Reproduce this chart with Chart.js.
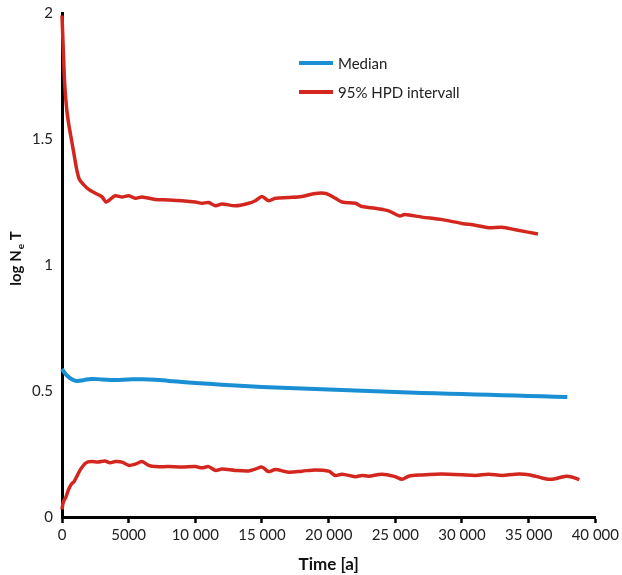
<!DOCTYPE html>
<html>
<head>
<meta charset="utf-8">
<script src="https://cdn.jsdelivr.net/npm/chart.js@4"></script>
<style>
  html, body { margin: 0; padding: 0; background: #fff; }
  #wrap { position: relative; width: 622px; height: 575px; }
</style>
</head>
<body>
<div id="wrap"><canvas id="neChart" width="622" height="575"></canvas></div>
<script>
const seriesNames = ["Median", "95% HPD intervall"];

const medianTime = [0, 300, 700, 1100, 1600, 2200, 3000, 4000, 5000, 6000, 7000, 8000, 9000, 10000,
  12000, 14000, 16000, 18000, 20000, 22000, 24000, 26000, 28000, 30000, 32000, 34000, 36000, 37900];
const medianValue = [0.588, 0.565, 0.548, 0.540, 0.543, 0.548, 0.546, 0.544, 0.546, 0.547, 0.545, 0.540, 0.536, 0.532,
  0.525, 0.519, 0.514, 0.510, 0.506, 0.502, 0.498, 0.494, 0.491, 0.488, 0.485, 0.482, 0.479, 0.476];

const upperTime = [0, 100, 200, 350, 500, 700, 900, 1100, 1300, 1600, 2000, 2500, 3000, 3300, 3600, 4000, 4500,
  5000, 5500, 6000, 7000, 8000, 9000, 10000, 10500, 11000, 11500, 12000, 13000, 14000, 14500, 15000, 15500,
  16000, 17000, 18000, 19000, 19800, 20500, 21000, 22000, 22500, 23500, 24500, 25300, 25700, 27000, 28500,
  30000, 31000, 32000, 33000, 34000, 35700];
const upperValue = [1.99, 1.85, 1.72, 1.62, 1.56, 1.50, 1.44, 1.38, 1.34, 1.32, 1.30, 1.285, 1.27, 1.25, 1.26, 1.275, 1.27,
  1.275, 1.265, 1.27, 1.26, 1.258, 1.255, 1.25, 1.245, 1.248, 1.235, 1.242, 1.235, 1.245, 1.255, 1.272, 1.255,
  1.265, 1.268, 1.272, 1.284, 1.284, 1.265, 1.25, 1.245, 1.232, 1.225, 1.215, 1.195, 1.2, 1.19, 1.18,
  1.165, 1.158, 1.148, 1.15, 1.14, 1.123];

const lowerTime = [0, 100, 300, 500, 700, 900, 1100, 1400, 1800, 2200, 2700, 3200, 3600, 4000, 4500, 5000, 5500,
  6000, 6500, 7000, 8000, 9000, 10000, 10500, 11000, 11500, 12000, 13000, 14000, 14500, 15000, 15500, 16000,
  17000, 18000, 19000, 20000, 20500, 21000, 22000, 22500, 23000, 24000, 25000, 25500, 26000, 27000, 28000,
  29000, 30000, 31000, 32000, 33000, 34000, 35000, 36000, 36500, 37000, 37800, 38300, 38800];
const lowerValue = [0.03, 0.06, 0.08, 0.11, 0.13, 0.14, 0.16, 0.19, 0.215, 0.22, 0.218, 0.222, 0.215, 0.22, 0.218, 0.205, 0.21,
  0.22, 0.205, 0.2, 0.2, 0.198, 0.2, 0.195, 0.2, 0.185, 0.19, 0.185, 0.183, 0.19, 0.198, 0.18, 0.188,
  0.178, 0.182, 0.187, 0.182, 0.165, 0.17, 0.16, 0.165, 0.162, 0.17, 0.16, 0.15, 0.162, 0.167, 0.17,
  0.17, 0.168, 0.165, 0.17, 0.165, 0.17, 0.168, 0.155, 0.15, 0.152, 0.162, 0.158, 0.148];

const xTickLabels = ["0", "5000", "10 000", "15 000", "20 000", "25 000", "30 000", "35 000", "40 000"];
const yTickLabels = ["0", "0.5", "1", "1.5", "2"];

const blue = "#1b8fd3";
const red = "#d3261f";
const fontFamily = "Lato, 'Open Sans', sans-serif";

function toPoints(xs, ys) {
  return xs.map((x, i) => ({ x: x, y: ys[i] }));
}

// legend inside the plot, plus the y title with a subscript
const extras = {
  id: "extras",
  afterDraw(chart) {
    const ctx = chart.ctx;
    const area = chart.chartArea;
    ctx.save();
    const items = [[seriesNames[0], blue], [seriesNames[1], red]];
    items.forEach(([label, color], i) => {
      const y = area.top + 50 + i * 29;
      const x = area.left + 237;
      ctx.strokeStyle = color;
      ctx.lineWidth = 4;
      ctx.beginPath();
      ctx.moveTo(x, y);
      ctx.lineTo(x + 34, y);
      ctx.stroke();
      ctx.fillStyle = "#222";
      ctx.font = "15px " + fontFamily;
      ctx.textBaseline = "middle";
      ctx.fillText(label, x + 39, y + 1);
    });

    ctx.translate(16, (area.top + area.bottom) / 2 - 6);
    ctx.rotate(-Math.PI / 2);
    ctx.fillStyle = "#111";
    ctx.textBaseline = "middle";
    ctx.font = "bold 15px " + fontFamily;
    const parts = ["log N", "e", " T"];
    const w0 = ctx.measureText(parts[0]).width;
    ctx.font = "bold 10px " + fontFamily;
    const w1 = ctx.measureText(parts[1]).width;
    ctx.font = "bold 15px " + fontFamily;
    const w2 = ctx.measureText(parts[2]).width;
    let x = -(w0 + w1 + w2) / 2;
    ctx.fillText(parts[0], x, 0);
    x += w0;
    ctx.font = "bold 10px " + fontFamily;
    ctx.fillText(parts[1], x + 1, 5);
    x += w1 + 1;
    ctx.font = "bold 15px " + fontFamily;
    ctx.fillText(parts[2], x, 0);
    ctx.restore();
  }
};

const ctx = document.getElementById("neChart").getContext("2d");
new Chart(ctx, {
  type: "line",
  data: {
    datasets: [
      {
        label: seriesNames[0],
        data: toPoints(medianTime, medianValue),
        borderColor: blue,
        borderWidth: 4,
        pointRadius: 0,
        tension: 0.4,
        clip: false
      },
      {
        label: seriesNames[1],
        data: toPoints(upperTime, upperValue),
        borderColor: red,
        borderWidth: 3.5,
        pointRadius: 0,
        tension: 0.3,
        clip: false
      },
      {
        label: seriesNames[1] + " (lower)",
        data: toPoints(lowerTime, lowerValue),
        borderColor: red,
        borderWidth: 3.5,
        pointRadius: 0,
        tension: 0.3,
        clip: false
      }
    ]
  },
  options: {
    responsive: false,
    animation: false,
    layout: { padding: { top: 13, right: 25, left: 0, bottom: 0 } },
    plugins: {
      legend: { display: false },
      tooltip: { enabled: false }
    },
    scales: {
      x: {
        type: "linear",
        min: 0,
        max: 40000,
        afterFit(scale) { scale.height = 58; },
        afterBuildTicks(scale) {
          scale.ticks = xTickLabels.map((_, i) => ({ value: i * 5000 }));
        },
        ticks: {
          color: "#222",
          font: { family: fontFamily, size: 15 },
          padding: 3,
          maxRotation: 0,
          autoSkip: false,
          callback: (value, i) => xTickLabels[i]
        },
        grid: {
          drawOnChartArea: false,
          drawTicks: true,
          tickLength: 6,
          tickWidth: 2.5,
          tickColor: "#000"
        },
        border: { display: true, color: "#000", width: 3 },
        title: {
          display: true,
          text: "Time [a]",
          color: "#111",
          font: { family: fontFamily, size: 17, weight: "bold" },
          padding: { top: 0, bottom: 0 }
        }
      },
      y: {
        min: 0,
        max: 2,
        afterFit(scale) {
          scale.width = 62;
          scale.paddingTop = 0;
        },
        afterBuildTicks(scale) {
          scale.ticks = yTickLabels.map((_, i) => ({ value: i * 0.5 }));
        },
        ticks: {
          color: "#222",
          font: { family: fontFamily, size: 15 },
          padding: 9,
          callback: (value, i) => yTickLabels[i]
        },
        grid: { drawOnChartArea: false, drawTicks: false },
        border: { display: true, color: "#000", width: 3 }
      }
    }
  },
  plugins: [extras]
});
</script>
</body>
</html>
